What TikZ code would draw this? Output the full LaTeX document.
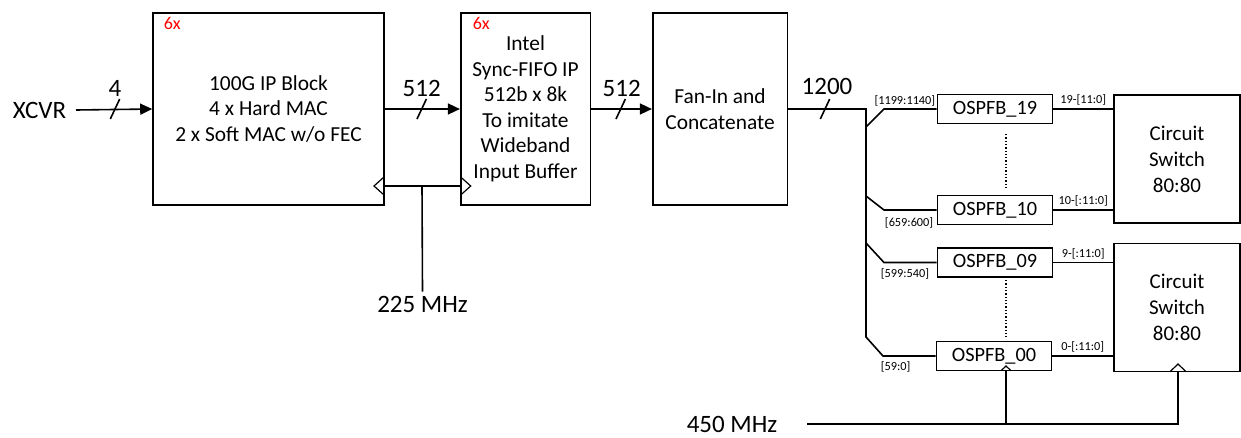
\documentclass[tikz,border=0pt]{standalone}
\usepackage{fontspec}
\setmainfont{Carlito}
\usetikzlibrary{arrows.meta,calc}

\begin{document}
\begin{tikzpicture}[x=1pt,y=-1pt,line width=1.6pt,
    block/.style={draw, rectangle, align=center, inner sep=0pt, minimum height=192pt, font=\fontsize{21.4}{25.5}\selectfont},
    fb/.style={draw, rectangle, minimum width=115pt, minimum height=29pt, inner sep=0pt, font=\fontsize{20.3}{24}\selectfont},
    sw/.style={draw, rectangle, align=center, minimum width=126pt, minimum height=128pt, inner sep=0pt, font=\fontsize{21}{26}\selectfont},
    bus/.style={-{Triangle[length=12pt,width=11pt]}},
    big/.style={font=\fontsize{25}{29}\selectfont},
    tiny/.style={font=\fontsize{12.3}{14}\selectfont, inner sep=1pt},
    rep/.style={text=red, font=\fontsize{18}{20}\selectfont, anchor=north west, inner sep=0pt}]

        \useasboundingbox (0,0) rectangle (1241,437);

        % blocks
        \node (xcvr) [big, anchor=east, inner sep=0pt] at (67,110) {XCVR};
        \node (ipblk) [block, minimum width=231pt] at (268.5,109) {100G IP Block\\4 x Hard MAC\\2 x Soft MAC w/o FEC};
        \node (fifo) [block, minimum width=129.6pt] at (525.5,109) {Intel\\Sync-FIFO IP\\512b x 8k\\To imitate\\Wideband\\Input Buffer};
        \node (fanin) [block, minimum width=134.6pt] at (720,109) {Fan-In and\\Concatenate};
        \node [rep] at (163,17) {6x};
        \node [rep] at (472,17) {6x};

        % ospfb and switches
        \node (f19) [fb] at (995,109) {OSPFB\_19};
        \node (f10) [fb] at (995,210) {OSPFB\_10};
        \node (f09) [fb] at (995,262.5) {OSPFB\_09};
        \node (f00) [fb] at (994,356) {OSPFB\_00};
        \node (swa) [sw] at (1177,159) {Circuit\\Switch\\80:80};
        \node (swb) [sw] at (1177,307.5) {Circuit\\Switch\\80:80};

        % bus
        \draw [bus] (xcvr.east) ++(9,0) coordinate (xin) -- (ipblk.west);
        \draw [bus] (ipblk.east) -- (fifo.west);
        \draw [bus] (fifo.east) -- (fanin.west);
        \coordinate (trunk) at (866,337);
        \draw (fanin.east) -| (trunk) -- (883,356) -- (f00.west);
        \draw (866,127) -- (884,109) -- (f19.west);
        \draw (866,196) -- (884,210) -- (f10.west);
        \draw (866,243) -- (884,262.5) -- (f09.west);

        % slash and width
        \draw (110.3,119) -- (119.7,99);\node [big] at (115,88) {4};
        \draw (417,119) -- (426.4,99);\node [big] at (421.7,88) {512};
        \draw (616,119) -- (625.4,99);\node [big] at (621.7,88) {512};
        \draw (820.3,119) -- (829.7,99);\node [big] at (827,86) {1200};

        % slices
        \node [tiny, anchor=east] at (937,100.5) {[1199:1140]};
        \node [tiny, anchor=east] at (935,222.5) {[659:600]};
        \node [tiny, anchor=west] at (879,274) {[599:540]};
        \node [tiny, anchor=west] at (879,367) {[59:0]};

        % outputs
        \draw (f19.east) -- (swa.west |- f19.east) node [tiny, midway, above=2pt] {19-[11:0]};
        \draw (f10.east) -- (swa.west |- f10.east) node [tiny, midway, above=2pt] {10-[:11:0]};
        \draw (f09.east) -- (swb.west |- f09.east) node [tiny, midway, above=2pt] {9-[:11:0]};
        \draw (f00.east) -- (swb.west |- f00.east) node [tiny, midway, above=2pt] {0-[:11:0]};
        \draw [dotted, line width=1.3pt] (1006,134) -- (1006,188);
        \draw [dotted, line width=1.3pt] (1006,280) -- (1006,337);

        % clock 225
        \node (mhza) [big] at (422.5,304) {225 MHz};
        \coordinate (cka) at (422,186);
        \draw (ipblk.east |- cka) -- (fifo.west |- cka);
        \draw (cka) -- (mhza.north);
        \draw [line width=1.2pt] (384,177) -- (374,186) -- (384,195);
        \draw [line width=1.2pt] (460.7,177) -- (470.7,186) -- (460.7,195);

        % clock 450
        \node (mhzb) [big, inner sep=0pt] at (732,424.5) {450 MHz};
        \coordinate (ckb) at (1178,424);
        \coordinate (ckc) at (1006,424);
        \draw (807,424) coordinate (ckin) -- (ckb) -- (ckb |- swb.south);
        \draw (ckc) -- (ckc |- f00.south);
        \draw [line width=1.2pt] (1170,371.7) -- (1178,364) -- (1186,371.7);
        \draw [line width=1.2pt] (1001,370.7) -- (1006,366) -- (1011,370.7);
    \end{tikzpicture}
\end{document}
